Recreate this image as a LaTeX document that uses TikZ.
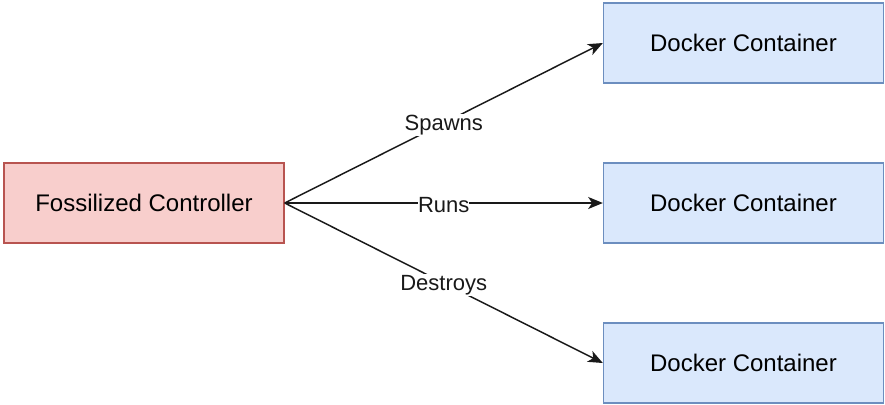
\documentclass[tikz,border=0pt]{standalone}
\usepackage{fontspec}
\setmainfont{Liberation Sans}
\usetikzlibrary{arrows.meta}
\definecolor{ctlFill}{HTML}{F8CECC}
\definecolor{ctlLine}{HTML}{B85450}
\definecolor{dkFill} {HTML}{DAE8FC}
\definecolor{dkLine} {HTML}{6C8EBF}

\begin{document}
\begin{tikzpicture}[x=0.75pt,y=-0.75pt,
    box/.style={minimum width=210pt,minimum height=60pt,line width=1pt,
                font=\fontsize{18}{22}\selectfont,inner sep=0pt},
    ctlbox/.style={box,draw=ctlLine,fill=ctlFill},
    dockbox/.style={box,draw=dkLine,fill=dkFill},
    link/.style={-{Stealth[length=11pt,width=9pt,inset=3pt]},line width=1.1pt,black!90},
    lbl/.style={midway,fill=white,inner xsep=0pt,inner ysep=1pt,yshift=-1.5pt,
                font=\fontsize{16.5}{20}\selectfont}]
  \useasboundingbox (0,0) rectangle (885,404);
  \node[ctlbox] (ctl) at (144,203) {Fossilized Controller};
  \node[dockbox] (dk1) at (743.5,43) {Docker Container};
  \node[dockbox] (dk2) at (743.5,203) {Docker Container};
  \node[dockbox] (dk3) at (743.5,363) {Docker Container};
  \draw[link] (ctl.east) -- (dk1.west) node[lbl] {Spawns};
  \draw[link] (ctl.east) -- (dk2.west) node[lbl] {Runs};
  \draw[link] (ctl.east) -- (dk3.west) node[lbl] {Destroys};
\end{tikzpicture}
\end{document}
